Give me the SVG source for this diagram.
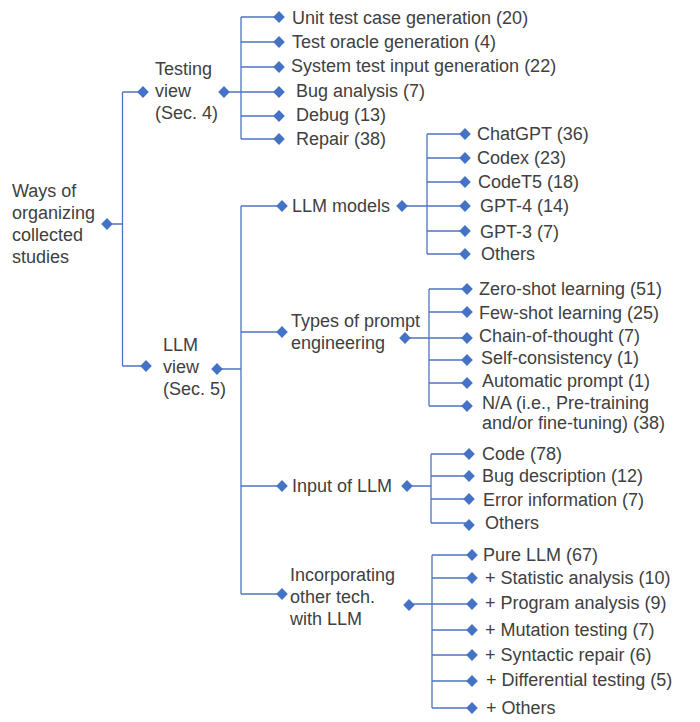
<svg xmlns="http://www.w3.org/2000/svg" xmlns:xlink="http://www.w3.org/1999/xlink" width="700" height="722" viewBox="0 0 700 722">
<style>
text{font-family:"Liberation Sans",Arial,sans-serif;font-size:18px;fill:#404040}
.c{stroke:#4d74bf;stroke-width:1.3;fill:none}
</style>
<defs>
<path id="d" d="M0,-6 L5.8,0 L0,6 L-5.8,0 Z" fill="#4472C4"/>
</defs>
<rect x="0" y="0" width="700" height="722" fill="#ffffff"/>
<g id="connectors" class="c">
<path d="M107,224H122.5 M122.5,92V366 M122.5,92H143 M122.5,366H146"/>
<path d="M224,92H279 M241,17V139 M241,17H279 M241,42H279 M241,67H279 M241,116H279 M241,139H279"/>
<path d="M217,369H241 M241,206V594 M241,206H282 M241,332H282 M241,486H282 M241,594H282"/>
<path d="M402,206H465 M427,134V254 M427,134H465 M427,158H465 M427,182H465 M427,231H465 M427,254H465"/>
<path d="M405,338H467 M429,289V406 M429,289H467 M429,312H467 M429,360H467 M429,383H467 M429,406H467"/>
<path d="M407,486H431 M431,454V523 M431,454H469 M431,476H469 M431,499H469 M431,523H469"/>
<path d="M409,604H472 M432,555V708 M432,555H472 M432,578H472 M432,630H472 M432,655H472 M432,681H472 M432,708H472"/>
</g>
<g id="root"><use xlink:href="#d" x="107" y="224"/><text x="12" y="197">Ways of</text><text x="12" y="219">organizing</text><text x="12" y="241">collected</text><text x="12" y="263">studies</text></g>
<g id="testing-view"><use xlink:href="#d" x="143" y="92"/><use xlink:href="#d" x="224" y="92"/><text x="155" y="75">Testing</text><text x="155" y="97">view</text><text x="155" y="119">(Sec. 4)</text></g>
<g id="t1"><use xlink:href="#d" x="279" y="17"/><text x="292" y="24">Unit test case generation (20)</text></g>
<g id="t2"><use xlink:href="#d" x="279" y="42"/><text x="292" y="48">Test oracle generation (4)</text></g>
<g id="t3"><use xlink:href="#d" x="279" y="67"/><text x="291" y="72">System test input generation (22)</text></g>
<g id="t4"><use xlink:href="#d" x="279" y="92"/><text x="296" y="97">Bug analysis (7)</text></g>
<g id="t5"><use xlink:href="#d" x="279" y="116"/><text x="296" y="121">Debug (13)</text></g>
<g id="t6"><use xlink:href="#d" x="279" y="139"/><text x="296" y="145">Repair (38)</text></g>
<g id="llm-view"><use xlink:href="#d" x="146" y="366"/><use xlink:href="#d" x="217" y="369"/><text x="163" y="351">LLM</text><text x="163" y="373">view</text><text x="163" y="395">(Sec. 5)</text></g>
<g id="llm-models"><use xlink:href="#d" x="282" y="206"/><use xlink:href="#d" x="402" y="206"/><text x="292" y="212">LLM models</text></g>
<g id="m1"><use xlink:href="#d" x="465" y="134"/><text x="477" y="139.5">ChatGPT (36)</text></g>
<g id="m2"><use xlink:href="#d" x="465" y="158"/><text x="477" y="164">Codex (23)</text></g>
<g id="m3"><use xlink:href="#d" x="465" y="182"/><text x="478" y="188">CodeT5 (18)</text></g>
<g id="m4"><use xlink:href="#d" x="465" y="206"/><text x="480" y="212">GPT-4 (14)</text></g>
<g id="m5"><use xlink:href="#d" x="465" y="231"/><text x="480" y="238">GPT-3 (7)</text></g>
<g id="m6"><use xlink:href="#d" x="465" y="254"/><text x="481" y="260">Others</text></g>
<g id="prompt"><use xlink:href="#d" x="282" y="332"/><use xlink:href="#d" x="405" y="338"/><text x="291" y="327">Types of prompt</text><text x="291" y="349">engineering</text></g>
<g id="p1"><use xlink:href="#d" x="467" y="289"/><text x="479" y="295">Zero-shot learning (51)</text></g>
<g id="p2"><use xlink:href="#d" x="467" y="312"/><text x="479" y="319">Few-shot learning (25)</text></g>
<g id="p3"><use xlink:href="#d" x="467" y="338"/><text x="479" y="341.5">Chain-of-thought (7)</text></g>
<g id="p4"><use xlink:href="#d" x="467" y="360"/><text x="481" y="364">Self-consistency (1)</text></g>
<g id="p5"><use xlink:href="#d" x="467" y="383"/><text x="482" y="387">Automatic prompt (1)</text></g>
<g id="p6"><use xlink:href="#d" x="467" y="406"/><text x="482" y="408.5">N/A (i.e., Pre-training</text><text x="482" y="428.5">and/or fine-tuning) (38)</text></g>
<g id="input"><use xlink:href="#d" x="282" y="486"/><use xlink:href="#d" x="407" y="486"/><text x="292" y="492">Input of LLM</text></g>
<g id="i1"><use xlink:href="#d" x="469" y="454"/><text x="482" y="460">Code (78)</text></g>
<g id="i2"><use xlink:href="#d" x="469" y="476"/><text x="482" y="482">Bug description (12)</text></g>
<g id="i3"><use xlink:href="#d" x="469" y="499"/><text x="483" y="506">Error information (7)</text></g>
<g id="i4"><use xlink:href="#d" x="469" y="525"/><text x="485" y="529">Others</text></g>
<g id="incorporating"><use xlink:href="#d" x="282" y="594"/><use xlink:href="#d" x="409" y="605"/><text x="290" y="580.5">Incorporating</text><text x="290" y="602.5">other tech.</text><text x="290" y="624.5">with LLM</text></g>
<g id="o1"><use xlink:href="#d" x="472" y="555"/><text x="483" y="561">Pure LLM (67)</text></g>
<g id="o2"><use xlink:href="#d" x="472" y="578"/><text x="485" y="584">+ Statistic analysis (10)</text></g>
<g id="o3"><use xlink:href="#d" x="472" y="604"/><text x="485" y="609">+ Program analysis (9)</text></g>
<g id="o4"><use xlink:href="#d" x="472" y="630"/><text x="485" y="636">+ Mutation testing (7)</text></g>
<g id="o5"><use xlink:href="#d" x="472" y="655"/><text x="485" y="661">+ Syntactic repair (6)</text></g>
<g id="o6"><use xlink:href="#d" x="472" y="681"/><text x="486" y="686">+ Differential testing (5)</text></g>
<g id="o7"><use xlink:href="#d" x="472" y="708"/><text x="486" y="714">+ Others</text></g>
</svg>
